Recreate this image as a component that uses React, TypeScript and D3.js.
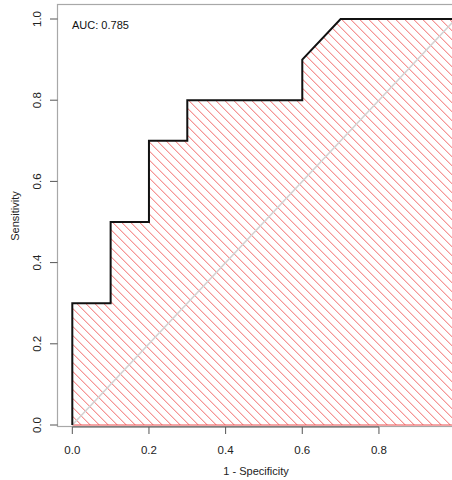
import React from "react";
import * as d3 from "d3";

// ROC curve coordinates (1 - specificity, sensitivity)
const fpr = [0, 0, 0.1, 0.1, 0.2, 0.2, 0.3, 0.3, 0.6, 0.6, 0.7, 1.0];
const tpr = [0, 0.3, 0.3, 0.5, 0.5, 0.7, 0.7, 0.8, 0.8, 0.9, 1.0, 1.0];
const aucLabel = "AUC: 0.785";
const xTicks = [0, 0.2, 0.4, 0.6, 0.8];
const yTicks = [0, 0.2, 0.4, 0.6, 0.8, 1.0];

const W = 452;
const H = 480;

export default function App() {
  const x = d3.scaleLinear().domain([0, 1]).range([72.3, 455.6]);
  const y = d3.scaleLinear().domain([0, 1]).range([425, 19]);

  const pts: [number, number][] = fpr.map((f, i) => [f, tpr[i]]);
  const line = d3
    .line<[number, number]>()
    .x((d) => x(d[0]))
    .y((d) => y(d[1]));

  // area under the curve, closed along the baseline
  const polyPts: [number, number][] = [...pts, [1, 0], [0, 0]];
  const polyPath = line(polyPts) + "Z";

  // diagonal hatching lines x - y = c (pixel space), clipped to the polygon
  const spacing = 9;
  const hatch: string[] = [];
  const x0 = x(0), x1 = x(1), yTop = y(1), yBot = y(0);
  for (let c = -500; c < 600; c += spacing) {
    const cc = c + 3.3;
    const pyA = yTop - 5, pyB = yBot + 5;
    const pxA = pyA + cc, pxB = pyB + cc;
    if (pxB < x0 - 20 || pxA > x1 + 20) continue;
    hatch.push(`M${pxA},${pyA}L${pxB},${pyB}`);
  }

  const font = "'Liberation Sans', Arial, Helvetica, sans-serif";

  return (
    <svg
      width={W}
      height={H}
      style={{ position: "absolute", left: 0, top: 0, background: "#fff" }}
      fontFamily={font}
    >
      <defs>
        <clipPath id="aucClip">
          <path d={polyPath} />
        </clipPath>
      </defs>

      {/* plot frame */}
      <rect x={57.5} y={4.5} width={414} height={422} fill="none" stroke="#a8a8a8" strokeWidth={1.2} />

      {/* hatched AUC polygon */}
      <g clipPath="url(#aucClip)">
        {hatch.map((d, i) => (
          <path key={i} d={d} stroke="#ef4f4f" strokeOpacity={0.85} strokeWidth={1} fill="none" />
        ))}
      </g>
      <line x1={x(0)} x2={x(1)} y1={y(0)} y2={y(0)} stroke="#ee5050" strokeWidth={1.2} />

      {/* chance diagonal */}
      <line x1={x(0)} y1={y(0)} x2={x(1)} y2={y(1)} stroke="#d3d3d3" strokeWidth={1.6} />

      {/* ROC curve */}
      <path d={line(pts) || ""} fill="none" stroke="#111" strokeWidth={2} />

      {/* x axis */}
      <line x1={x(0)} x2={x(0.8)} y1={427} y2={427} stroke="#555" strokeWidth={1} />
      {xTicks.map((t) => (
        <g key={t}>
          <line x1={x(t)} x2={x(t)} y1={427} y2={434} stroke="#555" strokeWidth={1} />
          <text x={x(t)} y={454} fontSize={11.5} textAnchor="middle" fill="#222">
            {t.toFixed(1)}
          </text>
        </g>
      ))}
      <text x={256} y={475} fontSize={11} textAnchor="middle" fill="#222">
        1 - Specificity
      </text>

      {/* y axis */}
      {yTicks.map((t) => (
        <g key={t}>
          <line x1={50} x2={57.5} y1={y(t)} y2={y(t)} stroke="#555" strokeWidth={1} />
          <text
            transform={`translate(41,${y(t)}) rotate(-90)`}
            fontSize={11.5}
            textAnchor="middle"
            fill="#222"
          >
            {t.toFixed(1)}
          </text>
        </g>
      ))}
      <text
        transform={`translate(19,${216}) rotate(-90)`}
        fontSize={11}
        textAnchor="middle"
        fill="#222"
      >
        Sensitivity
      </text>

      {/* AUC annotation */}
      <text x={72} y={29} fontSize={11} fill="#111">
        {aucLabel}
      </text>
    </svg>
  );
}
